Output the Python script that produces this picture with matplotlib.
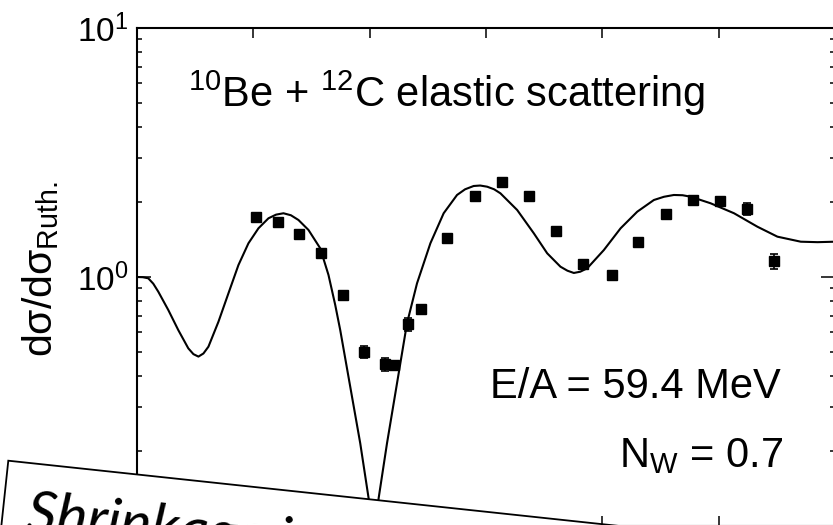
import numpy as np
import matplotlib
matplotlib.use("Agg")
import matplotlib.pyplot as plt
from matplotlib.patches import Rectangle
from matplotlib.ticker import LogLocator, NullFormatter, MultipleLocator, NullLocator

plt.rcParams['font.family'] = ['Liberation Sans', 'DejaVu Sans']
plt.rcParams['mathtext.fontset'] = 'custom'
plt.rcParams['mathtext.rm'] = 'Liberation Sans'
plt.rcParams['mathtext.it'] = 'Liberation Sans:italic'
plt.rcParams['mathtext.default'] = 'regular'

# ---- data ----
theta_exp = [1.024, 1.213, 1.394, 1.583, 1.773, 1.954, 2.134, 2.212, 2.332, 2.444,
             2.668, 2.909, 3.141, 3.373, 3.606, 3.838, 4.079, 4.303, 4.544, 4.776,
             5.009, 5.241, 5.473]
ratio_exp = [1.741, 1.663, 1.488, 1.248, 0.847, 0.500, 0.447, 0.443, 0.647, 0.744,
             1.434, 2.115, 2.407, 2.115, 1.530, 1.128, 1.019, 1.382, 1.791, 2.040,
             2.020, 1.876, 1.160]
ratio_err = [0.048, 0.046, 0.041, 0.035, 0.024, 0.028, 0.027, 0.012, 0.039, 0.021,
             0.040, 0.059, 0.067, 0.059, 0.042, 0.031, 0.028, 0.038, 0.050, 0.075,
             0.075, 0.104, 0.080]

theta_calc = [0.000, 0.050, 0.097, 0.140, 0.183, 0.269, 0.355, 0.441, 0.485, 0.528,
              0.571, 0.614, 0.700, 0.786, 0.872, 0.958, 1.044, 1.130, 1.195, 1.259,
              1.323, 1.388, 1.474, 1.575, 1.646, 1.704, 1.747, 1.833, 1.919, 1.991,
              2.031, 2.077, 2.149, 2.235, 2.321, 2.407, 2.522, 2.636, 2.751, 2.820,
              2.894, 2.950, 3.010, 3.070, 3.124, 3.268, 3.411, 3.526, 3.640, 3.700,
              3.755, 3.810, 3.870, 4.013, 4.157, 4.300, 4.443, 4.530, 4.615, 4.690,
              4.759, 4.931, 5.132, 5.333, 5.505, 5.706, 5.850, 6.000]
ratio_calc = [1.000, 0.998, 0.988, 0.940, 0.873, 0.737, 0.612, 0.517, 0.490, 0.479,
              0.493, 0.525, 0.661, 0.860, 1.117, 1.366, 1.569, 1.721, 1.780, 1.803,
              1.770, 1.694, 1.545, 1.304, 1.019, 0.772, 0.612, 0.3625, 0.2148, 0.1292,
              0.080, 0.1292, 0.2148, 0.374, 0.652, 0.943, 1.366, 1.803, 2.135, 2.250,
              2.320, 2.330, 2.305, 2.250, 2.168, 1.858, 1.498, 1.245, 1.100, 1.060,
              1.038, 1.050, 1.084, 1.283, 1.569, 1.829, 2.038, 2.100, 2.135, 2.130,
              2.101, 1.977, 1.803, 1.592, 1.452, 1.386, 1.380, 1.386]

title_txt = r'$^{10}$Be + $^{12}$C elastic scattering'
energy_txt = 'E/A = 59.4 MeV'
norm_txt = r'N$_{W}$ = 0.7'
ylabel_txt = r'd$\mathregular{\sigma}$/d$\mathregular{\sigma}_{Ruth.}$'
overlay_txt = 'Shrinkage in'

W, H = 833, 525
fig = plt.figure(figsize=(W / 100, H / 100), dpi=100)
ax = fig.add_axes([137 / W, (H - 526) / H, (835 - 137) / W, (526 - 28) / H])

ax.plot(theta_calc, ratio_calc, color='black', lw=1.5, zorder=2)
ax.errorbar(theta_exp, ratio_exp, yerr=ratio_err, fmt='s', color='black',
            ms=6.6, capsize=2.8, elinewidth=1.2, capthick=1.2, zorder=3)

ax.set_yscale('log')
ax.set_ylim(0.1, 10)
ax.set_xlim(0, 6)
ax.xaxis.set_major_locator(MultipleLocator(1))
ax.xaxis.set_minor_locator(NullLocator())
ax.yaxis.set_minor_locator(LogLocator(base=10, subs=np.arange(2, 10)))
ax.yaxis.set_minor_formatter(NullFormatter())

for s in ax.spines.values():
    s.set_linewidth(1.5)
ax.tick_params(which='both', direction='in', top=True, right=True, width=1.1,
               labelsize=24, pad=6)
ax.tick_params(axis='x', which='major', length=7.2)
ax.tick_params(axis='y', which='major', length=10)
ax.tick_params(which='minor', length=3.8)

ax.set_ylabel(ylabel_txt, fontsize=29.5)
ax.yaxis.set_label_coords(-76 / 698, 0.517)

fig.text(188 / W, 1 - 107 / H, title_txt, fontsize=30, ha='left', va='baseline')
fig.text(781 / W, 1 - 398 / H, energy_txt, fontsize=30, ha='right', va='baseline')
fig.text(783 / W, 1 - 467 / H, norm_txt, fontsize=30, ha='right', va='baseline')

# rotated white overlay box
ang = -6.1
x0, y0 = 8.3 / 100, (H - 460.7) / 100
box = Rectangle((x0, y0 - 3.0), 12.0, 3.0, angle=ang, rotation_point=(x0, y0),
                transform=fig.dpi_scale_trans, facecolor='white', edgecolor='black',
                lw=1.3, zorder=5, clip_on=False)
fig.patches.append(box)
fig.text(25 / 100, (H - 531) / 100, overlay_txt, transform=fig.dpi_scale_trans,
         rotation=ang, rotation_mode='anchor', ha='left', va='baseline',
         fontsize=42, family=['Lato', 'DejaVu Sans'], style='italic', zorder=6)

fig.savefig('out.png', dpi=100)
